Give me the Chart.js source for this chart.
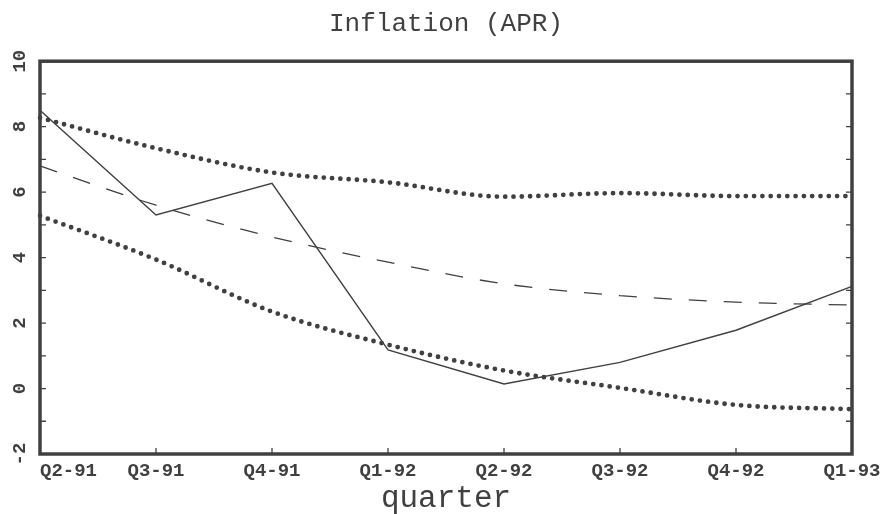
<!DOCTYPE html>
<html lang="en">
<head>
  <title>Inflation (APR)</title>
  <meta charset="utf-8">
  <script src="https://cdn.jsdelivr.net/npm/chart.js@4.4.0/dist/chart.umd.min.js"></script>
</head>
<style>
  body {
    margin: 0;
    background-color: #ffffff;
  }

  .chart-box {
    width: 881px;
    height: 514px;
  }
</style>
<body>

  <div class="chart-box">
    <canvas id="myChart"></canvas>
  </div>

  <script>
    // quarters on the x axis
    const quarters = ["Q2-91", "Q3-91", "Q4-91", "Q1-92", "Q2-92", "Q3-92", "Q4-92", "Q1-93"];
    // actual inflation (solid)
    const actual = [8.5, 5.3, 6.27, 1.18, 0.14, 0.8, 1.78, 3.12];
    // forecast (dashed)
    const forecast = [6.8, 5.6, 4.63, 3.86, 3.2, 2.84, 2.64, 2.55];
    // upper / lower band (dotted)
    const upperBand = [8.27, 7.34, 6.6, 6.3, 5.86, 5.97, 5.88, 5.88];
    const lowerBand = [5.28, 3.94, 2.35, 1.34, 0.55, 0.02, -0.5, -0.63];
    const yMin = -2, yMax = 10;

    const ink = "#404040";
    const mono = "'Liberation Mono', 'DejaVu Sans Mono', monospace";

    // box round the plot + small inward ticks
    const frame = {
      id: "frame",
      afterDatasetsDraw(chart) {
        const { ctx, chartArea: a, scales: { x, y } } = chart;
        ctx.save();
        ctx.strokeStyle = ink;
        ctx.lineWidth = 1.3;
        ctx.beginPath();
        y.ticks.forEach((t, i) => {
          const py = y.getPixelForTick(i);
          ctx.moveTo(a.left, py); ctx.lineTo(a.left + 6, py);
          ctx.moveTo(a.right, py); ctx.lineTo(a.right - 6, py);
        });
        x.ticks.forEach((t, i) => {
          const px = x.getPixelForTick(i);
          ctx.moveTo(px, a.bottom); ctx.lineTo(px, a.bottom - 6);
        });
        ctx.stroke();
        ctx.lineWidth = 3.5;
        ctx.strokeRect(a.left, a.top, a.right - a.left, a.bottom - a.top);
        ctx.restore();
      }
    };

    const dotted = {
      borderColor: ink,
      borderWidth: 4.8,
      borderDash: [0, 8.3],
      borderCapStyle: "round",
      pointRadius: 0,
      cubicInterpolationMode: "monotone",
      fill: false
    };

    new Chart("myChart", {
      type: "line",
      data: {
        labels: quarters,
        datasets: [
          { label: "actual", data: actual, borderColor: ink, borderWidth: 1.4, pointRadius: 0, tension: 0 },
          { label: "forecast", data: forecast, borderColor: ink, borderWidth: 1.3, borderDash: [18, 17], pointRadius: 0, cubicInterpolationMode: "monotone" },
          Object.assign({ label: "upper", data: upperBand }, dotted),
          Object.assign({ label: "lower", data: lowerBand }, dotted)
        ]
      },
      options: {
        responsive: true,
        maintainAspectRatio: false,
        animation: false,
        layout: { padding: { left: 0, right: 29, top: 0, bottom: 0 } },
        plugins: {
          legend: { display: false },
          tooltip: { enabled: false },
          title: {
            display: true,
            text: "Inflation (APR)",
            fullSize: false,
            color: ink,
            font: { family: mono, size: 26, weight: "normal" },
            padding: { top: 9, bottom: 21 }
          }
        },
        scales: {
          x: {
            type: "category",
            offset: false,
            grid: { display: false },
            border: { display: false },
            ticks: {
              color: ink,
              autoSkip: false,
              maxRotation: 0,
              padding: 0,
              font: { family: mono, size: 19, weight: "bold", lineHeight: 1 },
              // first label sits to the right of the axis start
              callback: (v, i) => i === 0 ? " ".repeat(quarters[0].length) + quarters[0] : quarters[i]
            },
            title: {
              display: true,
              text: "quarter",
              color: ink,
              font: { family: mono, size: 31, weight: "normal", lineHeight: 1 },
              padding: { top: 0, bottom: 0 }
            },
            afterFit(s) { s.paddingLeft = 0; s.paddingRight = 0; s.height = 60; }
          },
          y: {
            min: yMin,
            max: yMax,
            grid: { display: false },
            border: { display: false },
            ticks: {
              stepSize: 1,
              maxTicksLimit: 13,
              autoSkip: false,
              color: ink,
              minRotation: 90,
              maxRotation: 90,
              crossAlign: "center",
              padding: 0,
              font: { family: mono, size: 19, weight: "bold" },
              callback: v => v % 2 === 0 ? v : ""
            },
            afterFit(s) { s.width = 40; s.paddingTop = 0; s.paddingBottom = 0; }
          }
        }
      },
      plugins: [frame]
    });
  </script>

</body>
</html>
